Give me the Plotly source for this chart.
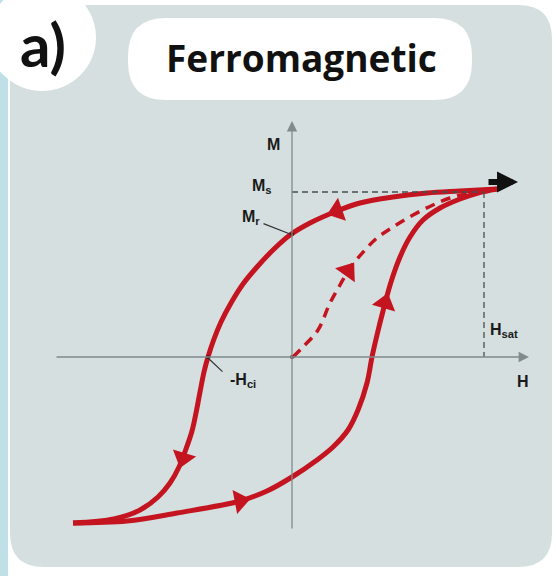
import math
import plotly.graph_objects as go

W, H = 556, 576
RED = "#c41420"
AXIS = "#7f8b8c"

# ---- data (H, M in diagram units; origin at axis crossing) ----
upper_H = [205, 168, 135, 101, 68, 45, 18, -2, -19, -35, -49, -61, -71, -78, -84, -88, -92, -96, -100, -106, -113, -122, -134, -152, -178, -219]
upper_M = [168, 166, 164, 160, 154, 146, 134, 122, 107, 90, 73, 54, 35, 18, 0, -15, -35, -56, -74, -92, -110, -126, -140, -153, -162, -166]

lower_H = [-219, -165, -115, -52, -25, 0, 25, 41, 56, 66, 75, 80, 85, 91, 99, 108, 118, 131, 148, 168, 186, 205]
lower_M = [-166, -164, -156, -144, -134, -120, -103, -90, -73, -53, -26, 0, 22, 46, 75, 100, 120, 137, 149, 158, 164, 168]

virgin_H = [1, 11, 26, 38, 48, 58, 73, 85, 101, 121, 141, 158, 178, 205]
virgin_M = [0, 10, 27, 54, 72, 89, 107, 119, 130, 142, 152, 159, 164, 168]

# arrowheads: position and travel direction
arrow_H = [45, -109, -52, 93, 56]
arrow_M = [146, -101, -144, 54, 86]
arrow_dH = [-23, -7, 63, 16, 25]
arrow_dM = [-8, -23, 12, 55, 35]

sat_H, sat_M = 192, 168
Ms_val = 165

labels = ["M", "M<sub>s</sub>", "M<sub>r</sub>", "-H<sub>ci</sub>", "H<sub>sat</sub>", "H"]
label_H = [-19, -30, -41, -49, 212, 231]
label_M = [213, 171, 140, -23, 27, -24]

fig = go.Figure()

def px(x):
    return x / W

def py(y):
    return 1 - y / H

def rrect(x0, y0, x1, y1, r):
    p = (f"M {px(x0+r)} {py(y0)} L {px(x1-r)} {py(y0)} "
         f"Q {px(x1)} {py(y0)} {px(x1)} {py(y0+r)} "
         f"L {px(x1)} {py(y1-r)} Q {px(x1)} {py(y1)} {px(x1-r)} {py(y1)} "
         f"L {px(x0+r)} {py(y1)} Q {px(x0)} {py(y1)} {px(x0)} {py(y1-r)} "
         f"L {px(x0)} {py(y0+r)} Q {px(x0)} {py(y0)} {px(x0+r)} {py(y0)} Z")
    return p

shapes = [
    dict(type="rect", xref="paper", yref="paper", x0=0, x1=px(8), y0=0, y1=1,
         fillcolor="#bfe0e6", line_width=0, layer="below"),
    dict(type="path", xref="paper", yref="paper", path=rrect(10, 5, 552, 567, 34),
         fillcolor="#d5dfe0", line_width=0, layer="below"),
    dict(type="circle", xref="paper", yref="paper", x0=px(-12), x1=px(96), y0=py(-16), y1=py(91),
         fillcolor="white", line_width=0, layer="below"),
    dict(type="path", xref="paper", yref="paper", path=rrect(128, 18, 472, 100, 38),
         fillcolor="white", line_width=0, layer="below"),
    # dashed guides
    dict(type="line", xref="x", yref="y", x0=0, x1=sat_H, y0=Ms_val, y1=Ms_val,
         line=dict(color="#4a4f50", width=1.3, dash="6px,4px")),
    dict(type="line", xref="x", yref="y", x0=sat_H, x1=sat_H, y0=Ms_val, y1=0,
         line=dict(color="#4a4f50", width=1.3, dash="6px,4px")),
]

# axes with arrows
annotations = [
    dict(x=237, y=0, ax=-237, ay=0, xref="x", yref="y", axref="x", ayref="y",
         showarrow=True, arrowhead=2, arrowsize=1.6, arrowwidth=1.3, arrowcolor=AXIS, text=""),
    dict(x=0, y=236, ax=0, ay=-173, xref="x", yref="y", axref="x", ayref="y",
         showarrow=True, arrowhead=2, arrowsize=1.6, arrowwidth=1.3, arrowcolor=AXIS, text=""),
    # black saturation arrow
    dict(x=226, y=175, ax=195, ay=175, xref="x", yref="y", axref="x", ayref="y",
         showarrow=True, arrowhead=2, arrowsize=0.7, arrowwidth=6, arrowcolor="#111111", text=""),
    # leader lines
    dict(x=-2, y=123, ax=-30, ay=134, xref="x", yref="y", axref="x", ayref="y",
         showarrow=True, arrowhead=0, arrowwidth=1.2, arrowcolor="#333", text=""),
    dict(x=-84, y=-1, ax=-68, ay=-16, xref="x", yref="y", axref="x", ayref="y",
         showarrow=True, arrowhead=0, arrowwidth=1.2, arrowcolor="#333", text=""),
]

for t, hx, my in zip(labels, label_H, label_M):
    annotations.append(dict(x=hx, y=my, xref="x", yref="y", text=t, showarrow=False,
                            xanchor="center", yanchor="middle",
                            font=dict(family="Liberation Sans", size=16, color="#1a1a1a", weight="bold")))

annotations.append(dict(x=px(301), y=py(58), xref="paper", yref="paper", text="Ferromagnetic",
                        showarrow=False, xanchor="center", yanchor="middle",
                        font=dict(family="Open Sans", size=37, color="#111111", weight="bold")))
annotations.append(dict(x=px(43), y=py(44), xref="paper", yref="paper", text="a)",
                        showarrow=False, xanchor="center", yanchor="middle",
                        font=dict(family="Lato", size=60, color="#111111", weight="bold")))

fig.add_trace(go.Scatter(x=upper_H, y=upper_M, mode="lines",
                         line=dict(color=RED, width=5, shape="spline", smoothing=1.0), hoverinfo="skip"))
fig.add_trace(go.Scatter(x=lower_H, y=lower_M, mode="lines",
                         line=dict(color=RED, width=5, shape="spline", smoothing=1.0), hoverinfo="skip"))
fig.add_trace(go.Scatter(x=virgin_H, y=virgin_M, mode="lines",
                         line=dict(color=RED, width=3.5, shape="spline", dash="10px,7px"), hoverinfo="skip"))

angles = [math.degrees(math.atan2(dx, dy)) for dx, dy in zip(arrow_dH, arrow_dM)]
fig.add_trace(go.Scatter(x=arrow_H, y=arrow_M, mode="markers",
                         marker=dict(symbol="triangle-up", size=21, color=RED, angle=angles, line_width=0),
                         hoverinfo="skip"))
# small dots at origin / crossings
fig.add_trace(go.Scatter(x=[0, 0, -84], y=[0, 123, 0], mode="markers",
                         marker=dict(size=4, color="#5a1010"), hoverinfo="skip"))

fig.update_layout(
    width=W, height=H, margin=dict(l=0, r=0, t=0, b=0),
    paper_bgcolor="white", plot_bgcolor="rgba(0,0,0,0)", showlegend=False,
    xaxis=dict(range=[-292, 264], visible=False, fixedrange=True),
    yaxis=dict(range=[-219, 357], visible=False, fixedrange=True),
    shapes=shapes, annotations=annotations,
)
fig.write_html("out.html", config={"displayModeBar": False},
               post_script="document.body.style.margin='0';")
